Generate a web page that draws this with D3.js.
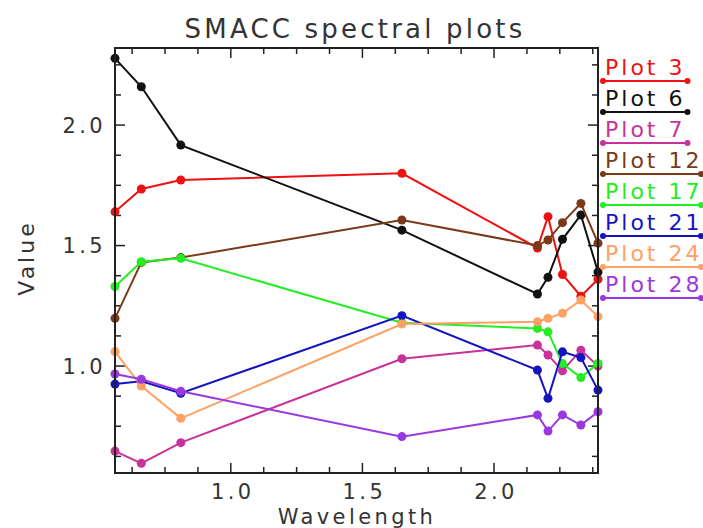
<!DOCTYPE html>
<html>
<head>
<meta charset="utf-8">
<script src="https://cdn.jsdelivr.net/npm/d3@7"></script>
<style>
  body { margin: 0; background: #fff; }
  text { font-family: "DejaVu Sans", sans-serif; fill: #333; letter-spacing: 3px; }
</style>
</head>
<body>
<script>
// Wavelengths (x) shared by all plots
var wavelengths = [0.56, 0.66, 0.81, 1.65, 2.165, 2.205, 2.26, 2.33, 2.395];

// Values for every plot
var plot3  = [1.64, 1.735, 1.772, 1.80, 1.49, 1.62, 1.38, 1.29, 1.36];
var plot6  = [2.277, 2.159, 1.917, 1.564, 1.299, 1.368, 1.526, 1.627, 1.39];
var plot7  = [0.647, 0.596, 0.682, 1.03, 1.087, 1.046, 0.98, 1.066, 1.0];
var plot12 = [1.198, 1.43, 1.45, 1.606, 1.50, 1.523, 1.595, 1.675, 1.51];
var plot17 = [1.33, 1.433, 1.447, 1.18, 1.156, 1.142, 1.01, 0.952, 1.011];
var plot21 = [0.925, 0.937, 0.887, 1.209, 0.983, 0.866, 1.059, 1.035, 0.90];
var plot24 = [1.06, 0.917, 0.783, 1.174, 1.184, 1.198, 1.219, 1.274, 1.205];
var plot28 = [0.967, 0.945, 0.895, 0.707, 0.797, 0.73, 0.797, 0.755, 0.81];

var names  = ["Plot 3", "Plot 6", "Plot 7", "Plot 12", "Plot 17", "Plot 21", "Plot 24", "Plot 28"];
var values = [plot3, plot6, plot7, plot12, plot17, plot21, plot24, plot28];
var colors = ["#ee1111", "#111111", "#c8329a", "#7a3a1a", "#22ee22", "#1414c0", "#ffa064", "#9a38e0"];

var xTicksMajor = [1.0, 1.5, 2.0];
var yTicksMajor = [1.0, 1.5, 2.0];

// Plot box
var box = {left: 115, right: 598, top: 48, bottom: 473};

var svg = d3.select("body")
    .append("svg")
    .attr("width", 703)
    .attr("height", 528);

var xScale = d3.scaleLinear()
    .domain([0.56, 2.395])
    .range([box.left, box.right]);

var yScale = d3.scaleLinear()
    .domain([0.556, 2.32])
    .range([box.bottom, box.top]);

// minor ticks every 0.125
var xMinor = d3.range(0.5, 2.5, 0.125).filter(function(d) { return d > 0.57 && d < 2.39; });
var yMinor = d3.range(0.5, 2.4, 0.125).filter(function(d) { return d > 0.56 && d < 2.31; });

function tickLen(d) { return xTicksMajor.indexOf(d) >= 0 ? 10 : 6; }
function tickLenY(d) { return yTicksMajor.indexOf(d) >= 0 ? 10 : 6; }

// Axes: ticks drawn inside the frame, on all four sides
var gx = svg.append("g").attr("class", "x axis");
xMinor.forEach(function(d) {
    var len = tickLen(d);
    gx.append("line").attr("x1", xScale(d)).attr("x2", xScale(d))
        .attr("y1", box.bottom).attr("y2", box.bottom - len)
        .attr("stroke", "#222").attr("stroke-width", 1.5);
    gx.append("line").attr("x1", xScale(d)).attr("x2", xScale(d))
        .attr("y1", box.top).attr("y2", box.top + len)
        .attr("stroke", "#222").attr("stroke-width", 1.5);
});
var gy = svg.append("g").attr("class", "y axis");
yMinor.forEach(function(d) {
    var len = tickLenY(d);
    gy.append("line").attr("y1", yScale(d)).attr("y2", yScale(d))
        .attr("x1", box.left).attr("x2", box.left + len)
        .attr("stroke", "#222").attr("stroke-width", 1.5);
    gy.append("line").attr("y1", yScale(d)).attr("y2", yScale(d))
        .attr("x1", box.right).attr("x2", box.right - len)
        .attr("stroke", "#222").attr("stroke-width", 1.5);
});

// Tick labels
svg.selectAll(".xlabel")
    .data(xTicksMajor)
    .enter()
    .append("text")
    .attr("class", "xlabel")
    .attr("x", function(d) { return xScale(d) + 2; })
    .attr("y", 498.5)
    .attr("text-anchor", "middle")
    .style("font-size", "21px")
    .style("letter-spacing", "3.4px")
    .text(function(d) { return d.toFixed(1); });

svg.selectAll(".ylabel")
    .data(yTicksMajor)
    .enter()
    .append("text")
    .attr("class", "ylabel")
    .attr("x", 106)
    .attr("y", function(d) { return yScale(d); })
    .attr("dy", "0.36em")
    .attr("text-anchor", "end")
    .style("font-size", "21px")
    .style("letter-spacing", "3.4px")
    .text(function(d) { return d.toFixed(1); });

// Axis titles and chart title
svg.append("text")
    .attr("x", 357)
    .attr("y", 523.5)
    .attr("text-anchor", "middle")
    .style("font-size", "21px")
    .style("letter-spacing", "3.4px")
    .text("Wavelength");

svg.append("text")
    .attr("transform", "translate(34,258) rotate(-90)")
    .attr("text-anchor", "middle")
    .style("font-size", "22px")
    .text("Value");

svg.append("text")
    .attr("x", 355)
    .attr("y", 38)
    .attr("text-anchor", "middle")
    .style("font-size", "26px")
    .style("letter-spacing", "3.2px")
    .text("SMACC spectral plots");

// Lines and markers
var line = d3.line()
    .x(function(d, i) { return xScale(wavelengths[i]); })
    .y(function(d) { return yScale(d); });

values.forEach(function(vals, k) {
    var g = svg.append("g").attr("class", "series");
    g.append("path")
        .attr("d", line(vals))
        .attr("fill", "none")
        .attr("stroke", colors[k])
        .attr("stroke-width", 2);
    g.selectAll("circle")
        .data(vals)
        .enter()
        .append("circle")
        .attr("cx", function(d, i) { return xScale(wavelengths[i]); })
        .attr("cy", function(d) { return yScale(d); })
        .attr("r", 4.5)
        .attr("fill", colors[k]);
});

// Frame
svg.append("rect")
    .attr("x", box.left)
    .attr("y", box.top)
    .attr("width", box.right - box.left)
    .attr("height", box.bottom - box.top)
    .attr("fill", "none")
    .attr("stroke", "#222")
    .attr("stroke-width", 2);

// Legend
var legend = svg.append("g").attr("class", "legend");
names.forEach(function(name, k) {
    var ly = 81 + k * 31;
    var t = legend.append("text")
        .attr("x", 605)
        .attr("y", ly - 6)
        .style("font-size", "22px")
        .style("fill", colors[k])
        .text(name);
    var x2 = Math.min(605 + t.node().getComputedTextLength() + 2, 701);
    legend.append("line")
        .attr("x1", 603).attr("x2", x2)
        .attr("y1", ly).attr("y2", ly)
        .attr("stroke", colors[k])
        .attr("stroke-width", 2);
    legend.selectAll(".dot" + k)
        .data([603, x2])
        .enter()
        .append("circle")
        .attr("cx", function(d) { return d; })
        .attr("cy", ly)
        .attr("r", 3)
        .attr("fill", colors[k]);
});
</script>
</body>
</html>
